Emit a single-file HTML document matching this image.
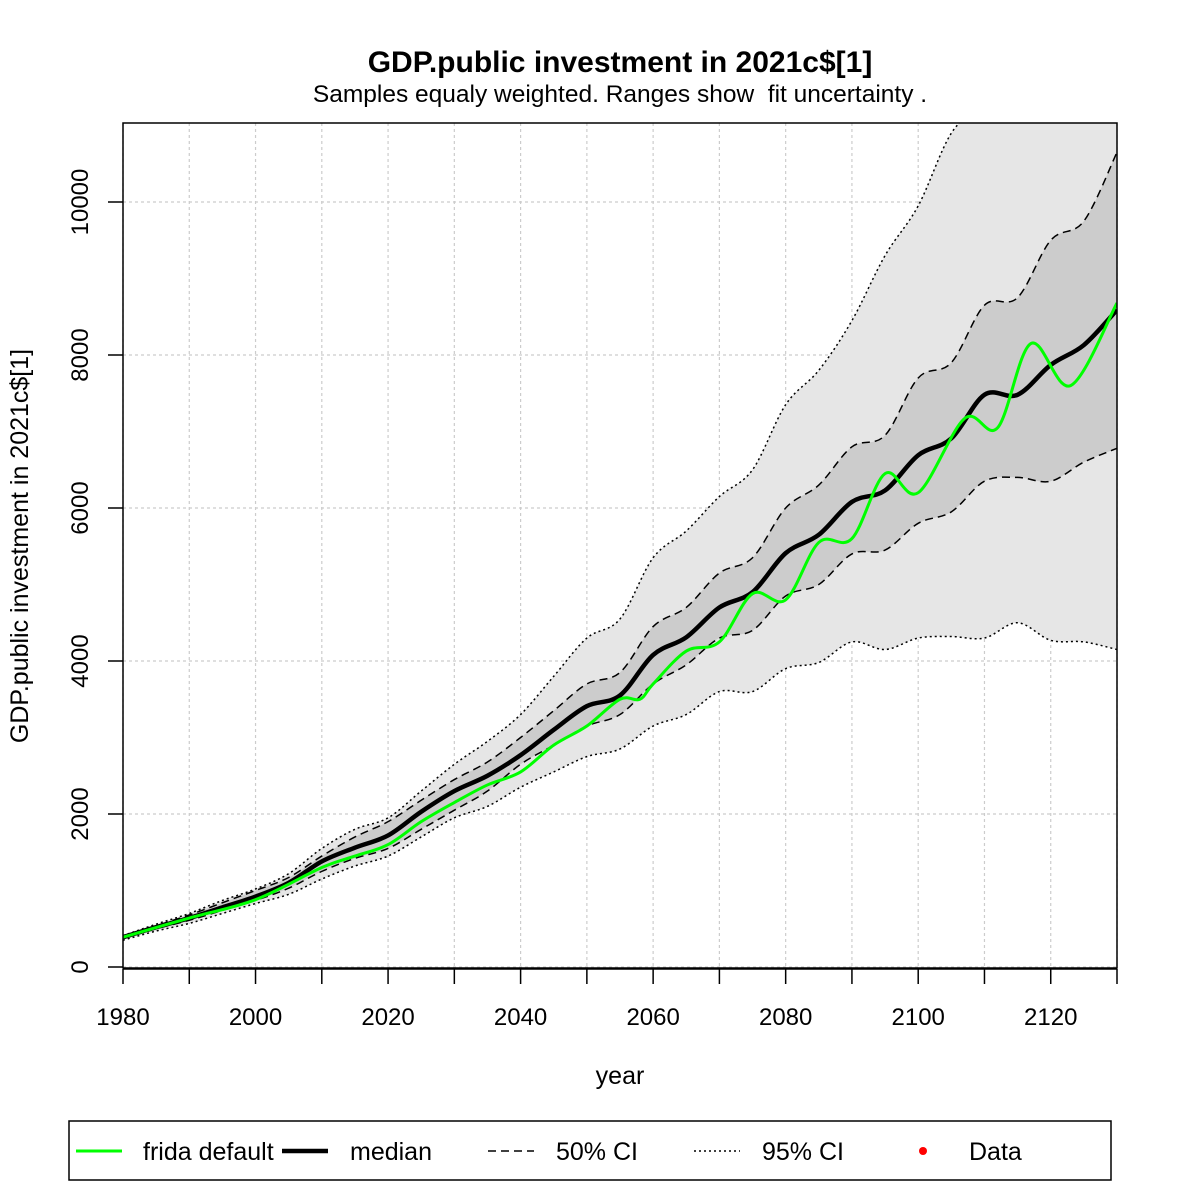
<!DOCTYPE html>
<html><head><meta charset="utf-8"><style>
body{margin:0;background:#fff}
svg text{font-family:"Liberation Sans",sans-serif}
</style></head><body>
<svg id="chart" width="1181" height="1181" viewBox="0 0 1181 1181">
<text x="620" y="72" font-size="30" font-weight="bold" text-anchor="middle">GDP.public investment in 2021c$[1]</text>
<text x="620" y="102" font-size="24.5" text-anchor="middle" xml:space="preserve" style="white-space:pre">Samples equaly weighted. Ranges show  fit uncertainty .</text>
<defs><clipPath id="pc"><rect x="123" y="123" width="994" height="845"/></clipPath></defs>
<g id="grid"></g>
<g id="bands" clip-path="url(#pc)"></g>
<g id="lines" clip-path="url(#pc)"></g>
<rect x="123" y="123" width="994" height="845" fill="none" stroke="#000" stroke-width="1.5"/>
<g id="axes"></g>
<text x="620" y="1084" font-size="25" text-anchor="middle">year</text>
<text transform="translate(28,546) rotate(-90)" font-size="25" text-anchor="middle">GDP.public investment in 2021c$[1]</text>
<g>
<rect x="69" y="1121" width="1042" height="59" fill="none" stroke="#000" stroke-width="1.5"/>
<g><line x1="76" y1="1151" x2="122" y2="1151" stroke="#00ff00" stroke-width="3"/><text x="143" y="1160" font-size="25">frida default</text></g>
<g><line x1="282" y1="1151" x2="328" y2="1151" stroke="#000" stroke-width="4.5"/><text x="350" y="1160" font-size="25">median</text></g>
<g><line x1="488" y1="1151" x2="534" y2="1151" stroke="#000" stroke-width="1.5" stroke-dasharray="8,5"/><text x="556" y="1160" font-size="25">50% CI</text></g>
<g><line x1="694" y1="1151" x2="740" y2="1151" stroke="#000" stroke-width="1.5" stroke-dasharray="2,3"/><text x="762" y="1160" font-size="25">95% CI</text></g>
<g><circle cx="923" cy="1151" r="4" fill="#ff0000"/><text x="969" y="1160" font-size="25">Data</text></g>
</g>
</svg>
<script>
const years = [1980,1985,1990,1995,2000,2005,2010,2015,2020,2025,2030,2035,2040,2045,2050,2055,2060,2065,2070,2075,2080,2085,2090,2095,2100,2105,2110,2115,2120,2125,2130];
const median = [390,520,640,780,920,1100,1380,1560,1720,2030,2300,2500,2770,3100,3410,3550,4080,4310,4700,4900,5410,5650,6080,6230,6690,6910,7480,7480,7870,8130,8590];
const ci50Upper = [400,540,680,840,1000,1170,1450,1700,1900,2180,2450,2680,3000,3350,3700,3850,4450,4700,5150,5350,6000,6300,6800,6950,7700,7900,8650,8750,9500,9750,10650];
const ci50Lower = [370,500,610,740,870,1030,1250,1420,1550,1800,2050,2300,2650,2900,3150,3300,3700,3950,4300,4400,4850,5000,5400,5450,5800,5950,6350,6400,6350,6600,6780];
const ci95Upper = [410,560,700,870,1020,1220,1550,1800,1950,2300,2650,2950,3300,3800,4300,4550,5350,5700,6150,6500,7350,7800,8450,9300,9950,10900,11300,11800,12000,12300,12500];
const ci95Lower = [350,470,570,700,830,950,1150,1320,1450,1700,1950,2100,2350,2550,2750,2850,3150,3300,3600,3600,3900,3980,4250,4150,4300,4320,4300,4500,4270,4250,4150];
const fridaYears = [1980,1990,2000,2010,2015,2020,2025,2030,2035,2040,2045,2050,2055,2058,2060,2065,2070,2075,2080,2085,2090,2095,2100,2107,2112,2117,2123,2130];
const fridaValues = [390,640,880,1300,1450,1600,1900,2150,2380,2550,2900,3150,3500,3500,3700,4130,4250,4880,4800,5550,5600,6450,6200,7170,7050,8150,7600,8680];
const xTicks = [1980,1990,2000,2010,2020,2030,2040,2050,2060,2070,2080,2090,2100,2110,2120,2130];
const xLabels = ['1980','2000','2020','2040','2060','2080','2100','2120'];
const yTicks = [0,2000,4000,6000,8000,10000];

const X = y => 123 + (y-1980)*994/150;
const Y = v => 967 - v*0.0765;
const NS = 'http://www.w3.org/2000/svg';
function mk(tag, attrs, parent){const e=document.createElementNS(NS,tag);for(const k in attrs)e.setAttribute(k,attrs[k]);parent.appendChild(e);return e;}
function smooth(pts){
  let d='M'+pts[0][0]+','+pts[0][1];
  for(let i=0;i<pts.length-1;i++){
    const p0=pts[Math.max(0,i-1)],p1=pts[i],p2=pts[i+1],p3=pts[Math.min(pts.length-1,i+2)];
    const c1=[p1[0]+(p2[0]-p0[0])/6,p1[1]+(p2[1]-p0[1])/6];
    const c2=[p2[0]-(p3[0]-p1[0])/6,p2[1]-(p3[1]-p1[1])/6];
    d+=' C'+c1[0]+','+c1[1]+' '+c2[0]+','+c2[1]+' '+p2[0]+','+p2[1];
  }
  return d;
}
const pts=(xs,vs)=>xs.map((x,i)=>[X(x),Y(vs[i])]);
function band(up,lo){
  const a=smooth(pts(years,up));
  const b=smooth(pts(years,lo).reverse()).replace(/^M/,'L');
  return a+' '+b+' Z';
}
const grid=document.getElementById('grid');
xTicks.forEach(t=>{const l=mk('line',{x1:X(t),x2:X(t),y1:123,y2:968,stroke:'#ccc','stroke-width':1.2,'stroke-dasharray':'3,3'},grid);

});
yTicks.forEach(t=>{const l=mk('line',{x1:123,x2:1117,y1:Y(t),y2:Y(t),stroke:'#ccc','stroke-width':1.2,'stroke-dasharray':'3,3'},grid);

});
const bands=document.getElementById('bands');
const b95=mk('path',{d:band(ci95Upper,ci95Lower),fill:'#e6e6e6'},bands);


const b50=mk('path',{d:band(ci50Upper,ci50Lower),fill:'#cccccc'},bands);


const lines=document.getElementById('lines');
function line(xs,vs,attrs,name){const p=mk('path',Object.assign({d:smooth(pts(xs,vs)),fill:'none'},attrs),lines);

}
line(years,ci95Upper,{stroke:'#000','stroke-width':1.5,'stroke-dasharray':'2,3'},'ci95-upper-line');
line(years,ci95Lower,{stroke:'#000','stroke-width':1.5,'stroke-dasharray':'2,3'},'ci95-lower-line');
line(years,ci50Upper,{stroke:'#000','stroke-width':1.5,'stroke-dasharray':'8,5'},'ci50-upper-line');
line(years,ci50Lower,{stroke:'#000','stroke-width':1.5,'stroke-dasharray':'8,5'},'ci50-lower-line');
line(years,median,{stroke:'#000','stroke-width':4.5},'median-line');
line(fridaYears,fridaValues,{stroke:'#00ff00','stroke-width':3},'frida-default-line');
const axes=document.getElementById('axes');
mk('line',{x1:123,x2:1117,y1:969,y2:969,stroke:'#000','stroke-width':1.5},axes);
xTicks.forEach(t=>{const l=mk('line',{x1:X(t),x2:X(t),y1:969,y2:984,stroke:'#000','stroke-width':1.5},axes);

});
xLabels.forEach(s=>{const t=mk('text',{x:X(+s),y:1025,'font-size':24,'text-anchor':'middle'},axes);t.textContent=s;

});
yTicks.forEach(v=>{const l=mk('line',{x1:108,x2:123,y1:Y(v),y2:Y(v),stroke:'#000','stroke-width':1.5},axes);


const t=mk('text',{transform:'translate(88,'+Y(v)+') rotate(-90)','font-size':24,'text-anchor':'middle'},axes);t.textContent=String(v);

});
</script>
</body></html>
